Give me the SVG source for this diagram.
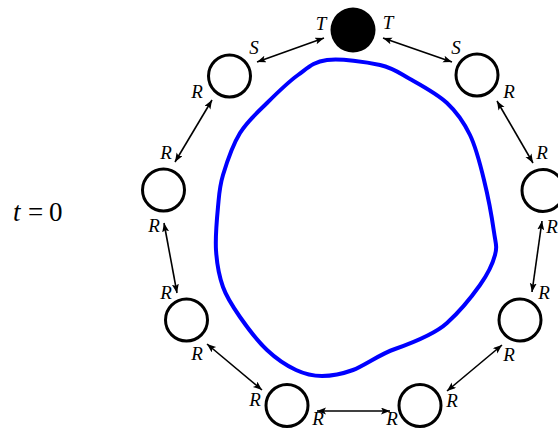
<svg xmlns="http://www.w3.org/2000/svg" width="558" height="429" viewBox="0 0 558 429">
<defs>
<marker id="ah" markerUnits="userSpaceOnUse" markerWidth="10" markerHeight="8" refX="9" refY="3.5" orient="auto-start-reverse">
<path d="M0,0 L9,3.5 L0,7 L2,3.5 z" fill="#000"/>
</marker>
<style>
.node{fill:#fff;stroke:#000;stroke-width:3}
.lbl{font-family:"Liberation Serif","Times New Roman",serif;font-style:italic;font-size:19px;text-anchor:middle;fill:#000}
.tm{font-family:"Liberation Serif","Times New Roman",serif;font-size:27px;fill:#000}
.arr{stroke:#000;stroke-width:1.6;fill:none;marker-start:url(#ah);marker-end:url(#ah)}
</style>
</defs>
<rect width="558" height="429" fill="#fff"/>
<g id="time">
<text class="tm" x="13" y="221" font-style="italic">t</text>
<text class="tm" x="28" y="221">=</text>
<text class="tm" x="49" y="221">0</text>
</g>
<g id="curve">
<path d="M327,60 C340.7,58.3 366.2,61.8 380,65 C393.8,68.2 398.8,72.7 410,79 C421.2,85.3 437,93.7 447,103 C457,112.3 463.8,122.2 470,135 C476.2,147.8 480,163.3 484,180 C488,196.2 492.2,219.5 494,232 C495.8,244.5 497.3,246.2 495,255 C492.7,263.8 488,273.7 480,285 C472,296.3 457.8,313.3 447,323 C436,333 412,343 395,349 C380,354 364,366 353,370 C342.5,373.8 331.5,376 322,376 C312.5,376 305.2,374.3 296,370 C286.8,365.7 276.3,358.8 267,350 C257.7,341.2 247.3,327.5 240,317 C232.7,306.5 227,298.2 223,287 C219,275.8 216.8,263.3 216,250 C215.2,236.7 216.8,219.5 218,207 C219.2,194.5 219.3,187.3 223,175 C226.7,162.7 232.7,145 240,133 C247.3,121 257.3,112.7 267,103 C276.7,93.3 288,82.2 298,75 C308,67.8 313.3,61.7 327,60 Z" fill="none" stroke="#0000ff" stroke-width="4"/>
</g>
<g id="connectors">
<line class="arr" x1="257" y1="62" x2="324" y2="38"/>
<line class="arr" x1="383" y1="38" x2="452" y2="62"/>
<line class="arr" x1="497" y1="101" x2="533" y2="163"/>
<line class="arr" x1="542" y1="221" x2="532" y2="292"/>
<line class="arr" x1="502" y1="345" x2="447" y2="391"/>
<line class="arr" x1="390" y1="411" x2="317" y2="411"/>
<line class="arr" x1="262" y1="390" x2="207" y2="344"/>
<line class="arr" x1="177" y1="293" x2="164" y2="223"/>
<line class="arr" x1="175" y1="162" x2="212" y2="100"/>
</g>
<g id="n_top"><circle cx="353" cy="30" r="22.5" fill="#000"/><text class="lbl" x="321" y="30">T</text><text class="lbl" x="388" y="29">T</text></g>
<g id="n_tl"><circle class="node" cx="229.5" cy="76" r="21"/><text class="lbl" x="254" y="54">S</text><text class="lbl" x="197" y="98">R</text></g>
<g id="n_tr"><circle class="node" cx="477" cy="75" r="21"/><text class="lbl" x="456" y="54">S</text><text class="lbl" x="509" y="98">R</text></g>
<g id="n_l"><circle class="node" cx="163.5" cy="190" r="21"/><text class="lbl" x="166" y="159">R</text><text class="lbl" x="154" y="232">R</text></g>
<g id="n_r"><circle class="node" cx="543" cy="190.5" r="21"/><text class="lbl" x="542" y="159">R</text><text class="lbl" x="552" y="233">R</text></g>
<g id="n_ll"><circle class="node" cx="186.5" cy="320" r="21"/><text class="lbl" x="166" y="299">R</text><text class="lbl" x="197" y="360">R</text></g>
<g id="n_lr"><circle class="node" cx="520" cy="320" r="21"/><text class="lbl" x="544" y="299">R</text><text class="lbl" x="509" y="361">R</text></g>
<g id="n_bl"><circle class="node" cx="287" cy="405.5" r="21"/><text class="lbl" x="255" y="406">R</text><text class="lbl" x="318" y="425">R</text></g>
<g id="n_br"><circle class="node" cx="420" cy="405.5" r="21"/><text class="lbl" x="392" y="425">R</text><text class="lbl" x="452" y="407">R</text></g>
</svg>
